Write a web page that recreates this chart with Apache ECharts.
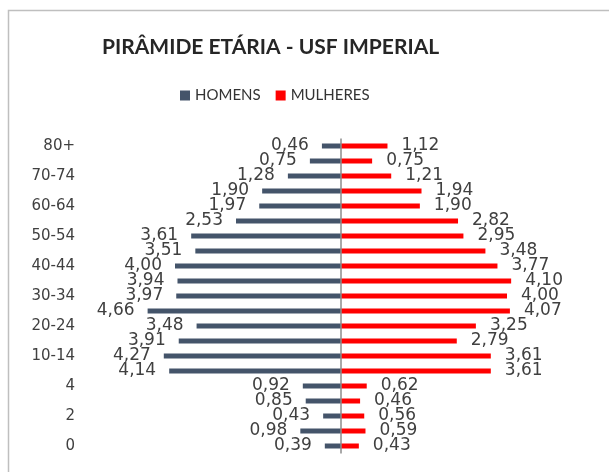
<!DOCTYPE html>
<html>
<head>
<meta charset="utf-8">
<script src="https://cdn.jsdelivr.net/npm/echarts@6/dist/echarts.min.js"></script>
<style>
    html, body { margin: 0; padding: 0; background: #fff; }
    #pyramid { width: 609px; height: 472px; }
</style>
</head>
<body>
<div id="pyramid"></div>
<script type="text/javascript">
    // faixas etarias, de baixo para cima
    var faixas = ['0', '1', '2', '3', '4', '5-9', '10-14', '15-19', '20-24', '25-29', '30-34',
        '35-39', '40-44', '45-49', '50-54', '55-59', '60-64', '65-69', '70-74', '75-79', '80+'];
    var homens = [0.39, 0.98, 0.43, 0.85, 0.92, 4.14, 4.27, 3.91, 3.48, 4.66, 3.97,
        3.94, 4.00, 3.51, 3.61, 2.53, 1.97, 1.90, 1.28, 0.75, 0.46];
    var mulheres = [0.43, 0.59, 0.56, 0.46, 0.62, 3.61, 3.61, 2.79, 3.25, 4.07, 4.00,
        4.10, 3.77, 3.48, 2.95, 2.82, 1.90, 1.94, 1.21, 0.75, 1.12];

    function fmt(v) {
        return Math.abs(v).toFixed(2).replace('.', ',');
    }

    var chart = echarts.init(document.getElementById('pyramid'));
    chart.setOption({
        animation: false,
        graphic: [{
            type: 'polyline',
            shape: { points: [[8.5, 472], [8.5, 10.5], [609, 10.5]] },
            style: { fill: 'none', stroke: '#bfbfbf', lineWidth: 1.5 },
            silent: true
        }],
        title: {
            text: 'PIRÂMIDE ETÁRIA - USF IMPERIAL',
            left: 97, top: 32,
            textStyle: { fontFamily: 'Lato', fontWeight: 'bold', fontSize: 21, color: '#262626' }
        },
        legend: {
            top: 83, left: 175,
            itemWidth: 10, itemHeight: 10, itemGap: 15,
            icon: 'rect',
            textStyle: { fontFamily: 'Lato', fontSize: 15, color: '#333333' },
            data: ['HOMENS', 'MULHERES']
        },
        grid: { left: 92, right: 19, top: 138.5, bottom: 18.5 },
        xAxis: {
            type: 'value', min: -6, max: 6,
            show: false
        },
        yAxis: {
            type: 'category',
            data: faixas,
            axisLine: { show: false, onZero: false },
            axisTick: { show: false },
            axisLabel: {
                interval: 1, margin: 17,
                fontFamily: 'DejaVu Sans', fontSize: 15, color: '#404040'
            }
        },
        series: [
            {
                name: 'HOMENS', type: 'bar', stack: 'pop', barWidth: 5,
                itemStyle: { color: '#44546a' },
                data: homens.map(function (v) { return -v; }),
                label: {
                    show: true, position: 'left', distance: 13,
                    fontFamily: 'DejaVu Sans', fontSize: 17, color: '#404040',
                    formatter: function (p) { return fmt(p.value); }
                },
                markLine: {
                    silent: true, symbol: 'none',
                    label: { show: false },
                    lineStyle: { color: '#8c8c8c', type: 'solid', width: 1.5 },
                    data: [{ xAxis: 0 }]
                }
            },
            {
                name: 'MULHERES', type: 'bar', stack: 'pop', barWidth: 5,
                itemStyle: { color: '#ff0000' },
                data: mulheres,
                label: {
                    show: true, position: 'right', distance: 14,
                    fontFamily: 'DejaVu Sans', fontSize: 17, color: '#404040',
                    formatter: function (p) { return fmt(p.value); }
                }
            }
        ]
    });
</script>
</body>
</html>
